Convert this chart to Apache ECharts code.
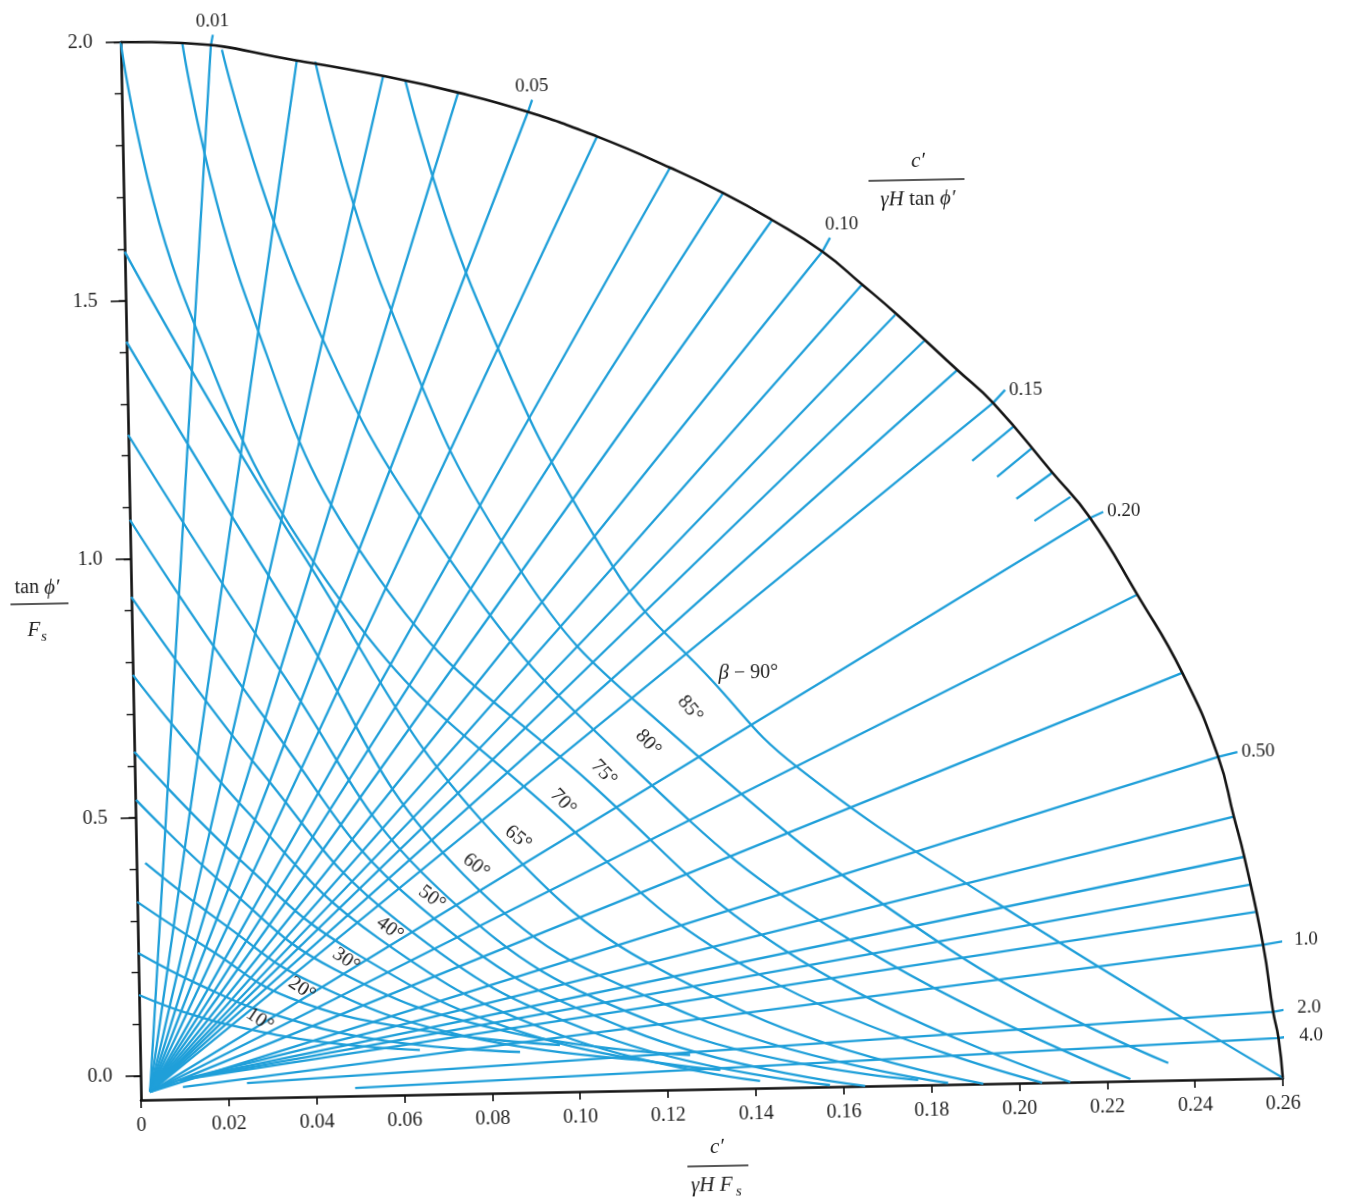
<!DOCTYPE html>
<html lang="en">
<head>
<meta charset="UTF-8">
<title>Michalowski slope stability chart</title>
<style>
    *{margin:0;}
    html,body{width:100%;height:100%;overflow:hidden;background:#fff;}
    /* the scanned chart is tilted about 1 degree, so the whole drawing is turned round the origin */
    #chart{
        position:absolute;left:0;top:0;
        width:1400px;height:1260px;
        transform-origin:141px 1100px;
        transform:rotate(-1.1deg);
    }
</style>
<script src="https://cdn.jsdelivr.net/npm/echarts@6.0.0/dist/echarts.min.js"></script>
</head>
<body>
<div id="chart"></div>
<script>
// axis ticks
const xTickValues = [0,0.02,0.04,0.06,0.08,0.10,0.12,0.14,0.16,0.18,0.20,0.22,0.24,0.26];
const yLabelValues = [0,0.5,1.0,1.5,2.0];
const yTickValues = [0,0.1,0.2,0.3,0.4,0.5,0.6,0.7,0.8,0.9,1.0,1.1,1.2,1.3,1.4,1.5,1.6,1.7,1.8,1.9,2.0];

// outer boundary
const arcPoints = [[0,2.0],[0.0140,1.996],[0.0400,1.958],[0.0596,1.925],[0.0766,1.890],[0.0924,1.850],
    [0.1080,1.800],[0.1245,1.737],[0.1365,1.686],[0.1475,1.632],[0.1588,1.569],[0.1677,1.504],
    [0.1756,1.444],[0.1890,1.335],[0.1970,1.270],[0.2102,1.133],[0.2186,1.044],[0.2290,0.894],
    [0.2389,0.741],[0.2467,0.577],[0.2500,0.461],[0.2522,0.383],[0.2561,0.212],[0.2581,0.082],
    [0.2592,0.031],[0.2600,-0.046]];

// lines of constant c'/(γH tanφ')
const radialRatio = ['0.01','0.02','0.03','0.04','0.05','0.06','0.07','0.08','0.09','0.10','0.11','0.12','0.13',
    '0.14','0.15','0.20','0.30','0.40','0.50','0.6','0.7','0.8','0.9','1.0','2.0','4.0'];
const radialFrom = [[0.0021,-0.0313],[0.0021,-0.0313],[0.0021,-0.0313],[0.0021,-0.0313],[0.0021,-0.0313],
    [0.0021,-0.0313],[0.0021,-0.0313],[0.0021,-0.0313],[0.0021,-0.0313],[0.0021,-0.0313],[0.0021,-0.0313],
    [0.0021,-0.0313],[0.0021,-0.0313],[0.0021,-0.0313],[0.0021,-0.0313],[0.0021,-0.0313],[0.0021,-0.0313],
    [0.0021,-0.0313],[0.0021,-0.0313],[0.0090,-0.0092],[0.0090,-0.0092],[0.0090,-0.0092],[0.0090,-0.0092],
    [0.0096,-0.0228],[0.0242,-0.0175],[0.0488,-0.0311]];
const radialTo = [[0.0205,1.9897],[0.0400,1.958],[0.0596,1.925],[0.0766,1.890],[0.0924,1.850],[0.1080,1.800],
    [0.1245,1.737],[0.1365,1.6864],[0.1475,1.632],[0.1588,1.569],[0.1677,1.504],[0.1751,1.444],[0.1816,1.3926],
    [0.1890,1.335],[0.1970,1.270],[0.2186,1.044],[0.2290,0.894],[0.2389,0.741],[0.2467,0.577],[0.2500,0.461],
    [0.2522,0.383],[0.2535,0.329],[0.2545,0.276],[0.2561,0.212],[0.2581,0.082],[0.2592,0.0314]];
const radialTip = [[0.0210,2.0109],null,null,null,[0.0934,1.8733],null,null,null,null,[0.1606,1.5954],null,null,null,
    null,[0.1998,1.2948],[0.2216,1.0552],null,null,[0.2511,0.586],null,null,null,null,[0.2623,0.2204],
    [0.2627,0.0888],[0.2630,0.0345]];
const tagIndex = [0,4,9,14,15,18,23,24,25];
const tagSide = ['top','top','top','right','right','right','right','right','right'];

// short marks for 0.16 - 0.19 next to the boundary
const stubOuter = [[0.2015,1.223],[0.2057,1.1817],[0.2102,1.133],[0.2142,1.0854]];
const stubInner = [[0.1920,1.1587],[0.1976,1.1269],[0.2019,1.0836],[0.2059,1.0404]];

// slope angle curves
const beta10 = [[0.0000,0.1568],[0.0115,0.1181],[0.0247,0.0870],[0.0433,0.0568],[0.0637,0.0399]];
const beta15 = [[0.0000,0.2380],[0.0139,0.1739],[0.0295,0.1171],[0.0547,0.0608],[0.0865,0.0324]];
const beta20 = [[0.0000,0.3367],[0.0164,0.2412],[0.0344,0.1454],[0.0638,0.0786],[0.0956,0.0444]];
const beta25 = [[0.0020,0.4119],[0.0199,0.2890],[0.0392,0.1755],[0.0729,0.0675],[0.1138,0.0124]];
const beta30 = [[0.0002,0.5341],[0.0212,0.3565],[0.0445,0.1998],[0.0820,0.0757],[0.1252,0.0203]];
const beta35 = [[0.0000,0.6270],[0.0236,0.4141],[0.0494,0.2300],[0.0889,0.0649],[0.1320,-0.0099]];
const beta40 = [[0.0000,0.7760],[0.0261,0.5008],[0.0547,0.2581],[0.0957,0.0638],[0.1410,-0.0326]];
const beta45 = [[0.0000,0.9269],[0.0285,0.5875],[0.0595,0.2883],[0.1048,0.0623],[0.1569,-0.0430]];
const beta50 = [[0.0000,1.0759],[0.0310,0.6741],[0.0644,0.3165],[0.1116,0.0708],[0.1649,-0.0460]];
const beta55 = [[0.0000,1.2404],[0.0335,0.7802],[0.0692,0.3467],[0.1185,0.0794],[0.1770,-0.0366]];
const beta60 = [[0.0000,1.4204],[0.0361,0.8958],[0.0745,0.3768],[0.1254,0.0976],[0.1838,-0.0435]];
const beta65 = [[0.0000,1.5945],[0.0386,1.0115],[0.0842,0.4294],[0.1345,0.1155],[0.1918,-0.0460]];
const beta70 = [[0.0000,2.0000],[0.0135,1.4993],[0.0475,0.9133],[0.0940,0.5033],[0.1415,0.1724],[0.2052,-0.0460]];
const beta75 = [[0.0140,1.9966],[0.0276,1.4971],[0.0567,0.9505],[0.1036,0.5501],[0.1507,0.1999],[0.2116,-0.0460]];
const beta80 = [[0.0230,1.9815],[0.0408,1.4949],[0.0727,0.9866],[0.1124,0.5874],[0.1621,0.2368],[0.2253,-0.0425]];
const beta85 = [[0.0442,1.9549],[0.0595,1.4919],[0.0886,0.9647],[0.1216,0.6497],[0.1849,0.2137],[0.2340,-0.0130]];
const beta90 = [[0.0646,1.9160],[0.0800,1.4885],[0.1098,0.9670],[0.1321,0.7409],[0.1508,0.5733],[0.1964,0.2989],[0.2600,-0.0460]];
const betaAngles = [10,15,20,25,30,35,40,45,50,55,60,65,70,75,80,85,90];
const betaCurves = [beta10,beta15,beta20,beta25,beta30,beta35,beta40,beta45,beta50,beta55,beta60,beta65,beta70,beta75,beta80,beta85,beta90];

// curve labels
const betaLabelText = ['10°','20°','30°','40°','50°','60°','65°','70°','75°','80°','85°','{b|β} − 90°'];
const betaLabelAt = [[0.0274,0.1039],[0.0371,0.1623],[0.0473,0.2168],[0.0574,0.2751],[0.0671,0.3335],[0.0773,0.3938],
    [0.0870,0.4464],[0.0974,0.5143],[0.1068,0.5689],[0.1170,0.6253],[0.1267,0.6895],[0.1401,0.7570]];
const betaLabelTilt = [-35,-35,-36,-38,-38,-40,-40,-48,-48,-48,-52,0];

const BLUE = '#1f9fd9';
const INK = '#222';
const SERIF = '"Liberation Serif","DejaVu Serif",serif';

function blueLine(name, data, smooth){
    return {
        type:'line', name:name, data:data, symbol:'none', smooth:smooth,
        clip:false, silent:true, z:2,
        lineStyle:{color:BLUE, width:2.3}
    };
}

let series = [];
radialTo.forEach((end, i) => {
    let pts = [radialFrom[i], end];
    if (radialTip[i]) pts.push(radialTip[i]);
    series.push(blueLine('ratio ' + radialRatio[i], pts, false));
});
stubOuter.forEach((p, i) => series.push(blueLine('stub ' + i, [stubInner[i], p], false)));
betaCurves.forEach((c, i) => series.push(blueLine('beta ' + betaAngles[i], c, 0.45)));

series.push({
    type:'line', name:'boundary', data:arcPoints, symbol:'none', smooth:0.5, clip:false, silent:true, z:4,
    lineStyle:{color:'#151515', width:2.6}
});

const tagFont = {fontFamily:SERIF, color:INK, textBorderWidth:0, textShadowBlur:0, opacity:1};

// text along the curves, kept on an invisible scatter so it sits in data space
series.push({
    type:'scatter', name:'beta labels', symbolSize:0, silent:true, clip:false, z:6,
    itemStyle:{color:'rgba(0,0,0,0)'},
    data: betaLabelAt.map((p, i) => ({
        value:p,
        label:Object.assign({rotate:betaLabelTilt[i], formatter:betaLabelText[i], fontSize:20}, tagFont)
    })),
    label:Object.assign({
        show:true, position:'inside', fontSize:20,
        rich:{b:{fontFamily:SERIF, fontSize:21, fontStyle:'italic', color:INK}}
    }, tagFont)
});

series.push({
    type:'scatter', name:'ratio labels', symbolSize:0, silent:true, clip:false, z:6,
    itemStyle:{color:'rgba(0,0,0,0)'},
    data: tagIndex.map((k, i) => ({
        value: radialTip[k],
        label:Object.assign({position:tagSide[i], formatter:radialRatio[k], fontSize:19,
            offset: k === 9 ? [12,0] : [0,0]}, tagFont)
    })),
    label:Object.assign({show:true, distance:4, fontSize:19}, tagFont)
});

let chart = echarts.init(document.getElementById('chart'));
chart.setOption({
    animation:false,
    backgroundColor:'#fff',
    grid:{left:141, right:117, top:42, bottom:160},
    xAxis:{
        type:'value', min:0, max:0.26,
        axisLine:{onZero:false, lineStyle:{color:'#111', width:2.6}},
        axisTick:{customValues:xTickValues, length:8, lineStyle:{color:'#111', width:1.6}},
        axisLabel:{customValues:xTickValues, margin:16, fontFamily:SERIF, fontSize:20, color:INK,
            formatter:v => v === 0 ? '0' : v.toFixed(2)},
        splitLine:{show:false}
    },
    yAxis:[{
        type:'value', min:-0.0464, max:2.0, position:'left',
        axisLine:{onZero:false, lineStyle:{color:'#111', width:2.6}},
        axisTick:{customValues:yTickValues, length:7, lineStyle:{color:'#111', width:1.4}},
        axisLabel:{customValues:yLabelValues, margin:28, fontFamily:SERIF, fontSize:20, color:INK,
            formatter:v => v.toFixed(1)},
        splitLine:{show:false}
    },{
        type:'value', min:-0.0464, max:2.0, position:'left', offset:0,
        axisLine:{show:false},
        axisTick:{customValues:yLabelValues, length:15, lineStyle:{color:'#111', width:1.6}},
        axisLabel:{show:false},
        splitLine:{show:false}
    }],
    graphic:[
        // c' / (γH tanφ') beside the boundary
        {type:'text', x:936, y:176, style:{text:'c′', font:'italic 21px ' + SERIF, fill:INK, align:'center', verticalAlign:'middle'}},
        {type:'line', shape:{x1:886, y1:195, x2:982, y2:195}, style:{stroke:INK, lineWidth:1.4}},
        {type:'text', x:935, y:214, style:{text:'{i|γH} tan {i|ϕ′}', font:'21px ' + SERIF, fill:INK, align:'center', verticalAlign:'middle',
            rich:{i:{fontFamily:SERIF, fontSize:21, fontStyle:'italic', fill:INK}}}},
        // x axis name
        {type:'text', x:716, y:1158, style:{text:'c′', font:'italic 21px ' + SERIF, fill:INK, align:'center', verticalAlign:'middle'}},
        {type:'line', shape:{x1:686, y1:1177, x2:747, y2:1177}, style:{stroke:INK, lineWidth:1.4}},
        {type:'text', x:710, y:1196, style:{text:'γH F', font:'italic 21px ' + SERIF, fill:INK, align:'center', verticalAlign:'middle'}},
        {type:'text', x:737, y:1203, style:{text:'s', font:'italic 15px ' + SERIF, fill:INK, align:'center', verticalAlign:'middle'}},
        // y axis name
        {type:'text', x:47, y:586, style:{text:'tan {i|ϕ′}', font:'20px ' + SERIF, fill:INK, align:'center', verticalAlign:'middle',
            rich:{i:{fontFamily:SERIF, fontSize:21, fontStyle:'italic', fill:INK}}}},
        {type:'line', shape:{x1:20, y1:602, x2:78, y2:602}, style:{stroke:INK, lineWidth:1.4}},
        {type:'text', x:43, y:628, style:{text:'F', font:'italic 21px ' + SERIF, fill:INK, align:'center', verticalAlign:'middle'}},
        {type:'text', x:53, y:635, style:{text:'s', font:'italic 15px ' + SERIF, fill:INK, align:'center', verticalAlign:'middle'}}
    ],
    series:series
});
</script>
</body>
</html>
